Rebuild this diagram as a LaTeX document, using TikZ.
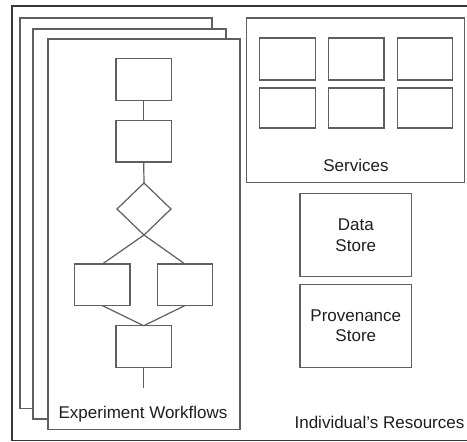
\documentclass[tikz,border=0pt]{standalone}
\usepackage{fontspec}
\setmainfont{Liberation Sans}
\usetikzlibrary{shapes.geometric}
\definecolor{ln}{RGB}{95,95,95}
\definecolor{lndark}{RGB}{55,55,55}
\definecolor{txt}{RGB}{30,30,30}
\tikzset{
  pagebox/.style={draw=ln, line width=1.2pt, fill=white},
  wfbox/.style={draw=ln, line width=1.2pt, fill=white, inner sep=0pt, outer sep=0pt, minimum width=55.3pt, minimum height=41.5pt},
  svcbox/.style={draw=ln, line width=1.2pt, inner sep=0pt, outer sep=0pt, minimum width=55.5pt},
  storebox/.style={draw=ln, line width=1.2pt, inner sep=0pt, outer sep=0pt, minimum width=111.7pt, align=center, text=txt, font=\fontsize{17}{20.5}\selectfont},
  decbox/.style={draw=ln, line width=1.2pt, diamond, inner sep=0pt, outer sep=0pt, minimum width=54pt, minimum height=52pt},
  conn/.style={draw=ln, line width=1.2pt},
  lbl/.style={text=txt, inner sep=0pt, font=\fontsize{17}{20.5}\selectfont, anchor=base}
}
\begin{document}
\begin{tikzpicture}[x=1pt, y=-1pt]
\useasboundingbox (0,0) rectangle (467,442);
% outer box
\draw[draw=lndark, line width=1.2pt] (12,6) rectangle (472,440.7);
% stacked pages
\draw[pagebox] (20,18) rectangle (212,408.3);
\draw[pagebox] (33,29) rectangle (226,419);
\draw[pagebox] (48,39) rectangle (240,429.3);
% services
\draw[pagebox] (246.3,18) rectangle (464.3,182.3);
\node[svcbox, minimum height=42pt] (s1) at (287.5,59) {};
\node[svcbox, minimum height=42pt] (s2) at (356.3,59) {};
\node[svcbox, minimum height=42pt] (s3) at (425,59) {};
\node[svcbox, minimum height=40pt] (s4) at (287.5,108) {};
\node[svcbox, minimum height=40pt] (s5) at (356.3,108) {};
\node[svcbox, minimum height=40pt] (s6) at (425,108) {};
\node[lbl] (svc) at (356,171.7) {Services};
% stores
\node[storebox, minimum height=83.4pt] (data) at (355.8,235) {Data\\Store};
\node[storebox, minimum height=83pt] (prov) at (355.8,325.8) {Provenance\\Store};
\node[lbl] (ind) at (379.5,428.3) {Individual’s Resources};
% workflow
\node[wfbox] (b1) at (143.7,79.5) {};
\node[wfbox] (b2) at (143.7,141.3) {};
\node[decbox] (d) at (144,209) {};
\node[wfbox] (bl) at (102.3,284.8) {};
\node[wfbox] (br) at (185,284.8) {};
\node[wfbox] (bb) at (143.7,346.5) {};
\coordinate (wend) at (143.7,388);
\draw[conn] (b1.south) -- (b2.north);
\draw[conn] (b2.south) -- (d.north);
\draw[conn] (d.south) -- (bl.north);
\draw[conn] (d.south) -- (br.north);
\draw[conn] (bl.south) -- (bb.north);
\draw[conn] (br.south) -- (bb.north);
\draw[conn] (bb.south) -- (wend);
\node[lbl] (wf) at (143,418.3) {Experiment Workflows};
\end{tikzpicture}
\end{document}
